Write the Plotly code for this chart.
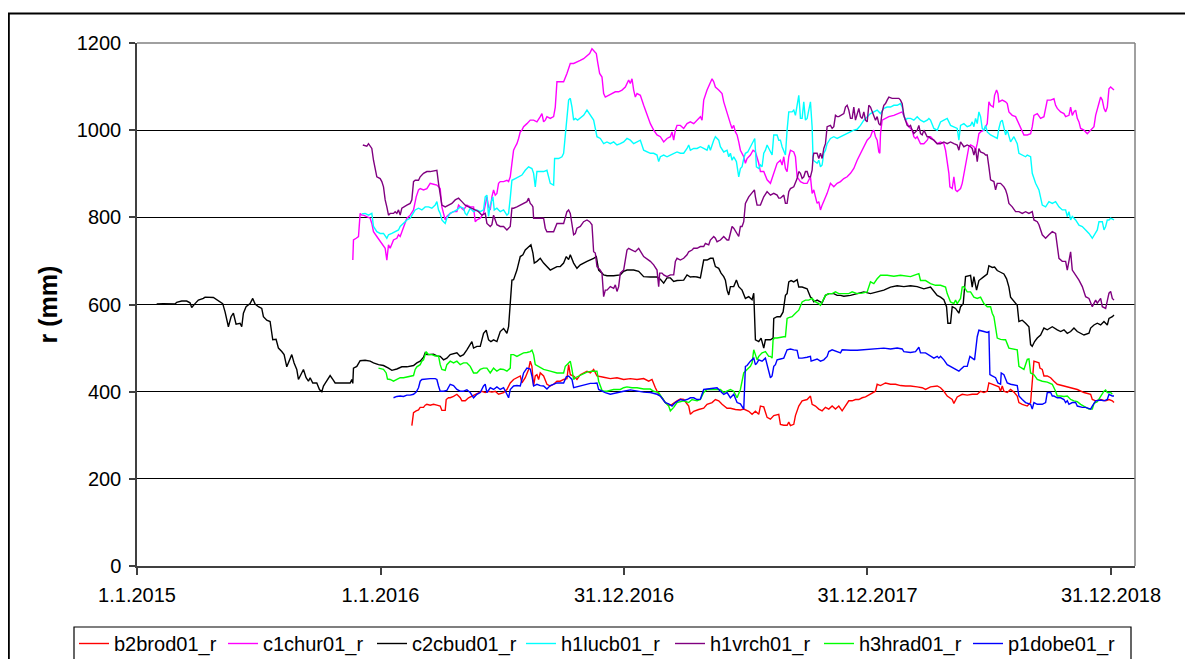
import plotly.graph_objects as go
import pandas as pd

ORIGIN = pd.Timestamp("2015-01-01")

# (day since 1.1.2015, r in mm)
b2brod01_r = [(412,322),(413.5,337),(414.5,352),(418.5,356),(422,358),(424.5,364),(429.5,364),(432,369),(434.5,371),(439.5,369),(444.5,371),(449.5,369),(454.5,367),(457,357),(462,357),(463.5,382),(467,386),
(469.5,386),(474.5,389),(479.5,394),(484.5,386),(487,379),(492,379),(497,386),(502,390),(507,394),(512,398),(517,401),(522,398),(527,401),(532,399),(537,401),(542,394),(549.5,398),(554.5,405),(559.5,420),(564.5,428),(569.5,432),(574.5,436),(577,420),(582,432),(587,451),(589.5,470),(592,458),(594.5,413),(597,436),(599.5,439),(602,428),(604.5,443),(609.5,436),(614.5,417),(619.5,413),(624.5,417),(629.5,424),(634.5,424),(639.5,428),(644.5,430),(647,462),(649.5,439),(654.5,436),(659.5,428),(664.5,439),(669.5,443),(674.5,447),(679.5,443),(684.5,451),(689.5,436),(694.5,434),(699.5,433),(709.5,430),(719.5,432),(729.5,428),(739.5,430),(749.5,428),(759.5,430),(767,424),(772,428),(777,409),(782,394),(787,386),(792,375),(797,369),(802,371),(809.5,379),(814.5,383),(819.5,382),(827,367),(829.5,348),(834.5,355),(842,359),(849.5,362),(854.5,371),(862,375),(867,382),(872,379),(877,371),(884.5,362),(889.5,362),(897,359),(904.5,358),(909.5,360),(917,355),(922,348),(927,355),(932,348),(934.5,367),(939.5,365),(944.5,341),
(949.5,337),(954.5,345),(962,348),(964.5,325),(969.5,323),(974.5,323),(977,330),(979.5,322),(984.5,325),(987,345),(992,367),(997,379),(1004.5,382),(1009.5,390),(1012,371),(1017,367),(1022,360),(1027,356),(1032,364),(1037,360),(1042,367),(1047,360),(1052,367),(1057,356),(1062,367),(1067,379),(1072,379),(1077,382),(1082,382),(1087,386),(1092,388),(1099.5,394),(1107,401),(1109.5,417),(1114.5,414),(1122,420),(1129.5,417),(1137,417),(1144.5,414),(1152,413),(1159.5,413),(1169.5,411),(1177,409),(1182,405),(1189.5,411),(1199.5,413),(1204.5,409),(1209.5,401),(1214.5,390),(1222,382),(1224.5,373),(1229.5,388),(1237,394),(1244.5,392),(1252,394),(1259.5,394),(1264.5,401),(1269.5,398),(1274.5,401),(1277,420),(1282,417),(1287,415),(1292,411),(1294.5,401),(1297,413),(1299.5,401),(1304.5,398),(1309.5,405),(1314.5,399),(1319.5,390),(1322,375),(1327,371),(1334.5,367),(1339.5,375),(1342,420),(1344.5,470),(1352,466),(1353.5,454),(1357,451),(1359.5,436),(1364.5,436),(1369.5,432),(1374.5,424),(1379.5,417),(1389.5,413),(1399.5,409),(1409.5,405),(1419.5,398),(1429.5,394),(1432,382),(1437,379),(1444.5,382),(1452,379),(1457,382),(1462,379),(1464.5,375)]

c1chur01_r = [(323.5,702),(324.5,748),(328.5,752),(332,756),(334.5,809),(337,805),(339.5,805),(344.5,802),(349.5,798),(352,786),(354.5,767),(359.5,756),(364.5,744),(369.5,733),(372,729),(374.5,702),(377,737),(379.5,729),(384.5,748),(389.5,752),(392,760),(394.5,756),(399.5,779),(404.5,798),(409.5,805),(414.5,817),(418.5,847),(422,863),(424.5,866),(429.5,863),(434.5,866),(439.5,878),(444.5,876),(449.5,874),(454.5,866),(457,824),(459.5,809),(462,794),(464.5,802),(469.5,809),(474.5,813),(479.5,813),(482,828),(484.5,824),(489.5,817),(494.5,828),(499.5,824),(504.5,824),(507,790),(509.5,794),(514.5,798),(519.5,809),(522,832),(524.5,847),(527,824),(529.5,817),(532,847),(534.5,863),(537,851),(539.5,855),(542,878),(544.5,882),(549.5,882),(554.5,885),(557,882),(559.5,893),(562,924),(564.5,954),(567,962),(569.5,969),(572,981),(574.5,996),(577,1000),(579.5,1008),(584.5,1015),(589.5,1023),(594.5,1023),(599.5,1019),(604.5,1031),(607,1038),(609.5,1019),(612,1023),(614.5,1031),(619.5,1027),(624.5,1031),(627,1053),(629.5,1111),(634.5,1111),(639.5,1111),(644.5,1130),(647,1141),(649.5,1153),(654.5,1153),(659.5,1156),(664.5,1160),(669.5,1164),(674.5,1172),(678.5,1176),(682,1187),(685.5,1180),(688.5,1176),(690.5,1156),(693.5,1130),(697,1122),(699.5,1084),(702,1076),(707,1080),(712,1084),(717,1088),(722,1088),(727,1092),(732,1099),(737,1115),(739.5,1107),(742,1118),(744.5,1092),(747,1076),(749.5,1084),(754.5,1080),
(759.5,1057),(764.5,1034),(769.5,1015),(774.5,1000),(779.5,989),(784.5,985),(789.5,973),(794.5,981),(799.5,985),(802,996),(804.5,977),(807,1000),(809.5,1011),(814.5,1011),(819.5,1004),(824.5,1015),(829.5,1019),(834.5,1015),(839.5,1023),(844.5,1031),(847,1023),(849.5,1069),(854.5,1092),(859.5,1107),(862,1118),(864.5,1111),(867,1099),(872,1092),(877,1084),(879.5,1065),(884.5,1038),(889.5,1015),(892,1004),(894.5,1011),(897,996),(899.5,989),(902,973),(904.5,954),(909.5,939),(912,924),(914.5,935),(919.5,943),(923.5,954),(927,950),(932,924),(934.5,905),(939.5,905),(944.5,886),(949.5,878),(954.5,901),(957,912),(959.5,924),(964.5,931),(967,920),(969.5,939),(972,912),(974.5,905),(977,939),(979.5,954),(984.5,950),(987,939),(989.5,893),(994.5,882),(999.5,878),(1004.5,878),(1009.5,893),(1012,855),(1014.5,863),(1017,847),(1019.5,832),(1022,836),(1024.5,817),(1027,828),(1029.5,836),(1034.5,855),(1039.5,878),(1044.5,870),(1049.5,878),(1054.5,882),(1059.5,889),(1064.5,893),(1069.5,901),(1074.5,912),(1079.5,931),(1084.5,947),(1089.5,962),(1094.5,977),(1099.5,985),(1102,996),(1104.5,1000),(1107,985),(1109.5,977),(1112,950),(1113.5,947),(1114.5,992),(1117,1023),(1122,1027),(1127,1031),(1134.5,1034),(1142,1038),(1147,1042),(1152,1023),(1157,1008),(1162,1000),(1164.5,985),(1167,981),(1169.5,985),(1174.5,969),(1179.5,969),(1184.5,977),(1187,985),
(1189.5,985),(1194.5,977),(1199.5,969),(1204.5,973),(1209.5,969),(1212,954),(1214.5,931),(1217,901),(1218.5,870),(1222,866),(1224.5,893),(1227,863),(1229.5,859),(1234.5,866),(1237,878),(1239.5,901),(1242,924),(1244.5,947),(1247,962),(1249.5,966),(1254.5,962),(1257,954),(1259.5,969),(1262,992),(1264.5,996),(1269.5,1000),(1274.5,1015),(1277,1065),(1279.5,1057),(1283.5,1053),(1285.5,1080),(1288.5,1092),(1290.5,1084),(1292,1065),(1297,1069),(1302,1065),(1304.5,1061),(1307,1042),(1312,1034),(1317,1031),(1320.5,1019),(1324.5,1004),(1329.5,989),(1334.5,989),(1339.5,992),(1342,1008),(1344.5,1034),(1349.5,1038),(1354.5,1027),(1359.5,1031),(1362,1053),(1364.5,1069),(1369.5,1069),(1374.5,1072),(1377,1057),(1379.5,1050),(1384.5,1042),(1389.5,1038),(1392,1031),(1397,1034),(1399.5,1053),(1402,1034),(1404.5,1042),(1407,1046),(1409.5,1027),(1412,1019),(1414.5,1004),(1419.5,1000),(1424.5,992),(1429.5,1000),(1434.5,1008),(1437,1034),(1442,1061),(1444.5,1076),(1447,1069),(1449.5,1050),(1452,1042),(1454.5,1053),(1457,1095),(1459.5,1099),(1464.5,1092)]

c2cbud01_r = [(29.5,601),(39.5,602),(57,601),(59.5,605),(67,608),(74.5,608),(79.5,604),(82,593),(87,602),(92,610),(99.5,614),(102,617),(114.5,616),(119.5,611),(124.5,606),(128.5,602),(132,583),(137,549),(141,572),(144.5,580),(148.5,555),(154.5,557),(157,549),(159.5,580),(163.5,595),(169.5,602),(173.5,614),(177,601),(182,595),(187,591),(189.5,572),(194.5,564),(199.5,561),(203.5,519),(208.5,520),(212,500),(217,492),(220.5,485),(224.5,457),(229.5,473),(232,485),(235.5,466),(239.5,451),(242,428),(245.5,439),(249.5,451),(253.5,432),(257,424),(259.5,432),(263.5,420),(269.5,420),(273.5,405),(277,400),(279.5,413),(282,419),(287,432),(289.5,437),(293.5,428),(297,420),(309.5,420),(319.5,420),(322,428),(323.5,419),(324.5,454),(329.5,458),(334.5,471),(342,472),(349.5,470),(354.5,466),(362,462),(369.5,460),(377,454),(382,449),(389.5,452),(397,457),(404.5,457),(414.5,460),(419.5,466),(424.5,470),(429.5,479),(432,489),(434.5,485),(444.5,486),(449.5,482),(454.5,481),(459.5,473),(464.5,477),
(469.5,485),(479.5,489),(484.5,481),(489.5,485),(494.5,496),(499.5,511),(502,515),(504.5,500),(509.5,504),(514.5,504),(519.5,534),(523.5,541),(527,519),(530.5,515),(534.5,519),(539.5,515),(544.5,538),(549.5,545),(554.5,534),(557,549),(559.5,595),(561,633),
(562,656),(564.5,657),(569.5,679),(574.5,710),(578.5,714),(582,725),(587,733),(590.5,737),(593.5,718),(595.5,695),(599.5,699),(604.5,706),(609.5,695),(614.5,687),(619.5,679),(624.5,683),(629.5,687),(634.5,687),(639.5,695),(643.5,710),(647,703),(649.5,714),(652,703),(654.5,695),(659.5,683),(664.5,691),(674.5,699),(679.5,702),(684.5,706),(688.5,710),(692,679),(697,672),(699.5,668),(704.5,666),(714.5,666),(724.5,668),(729.5,676),(734.5,679),(744.5,679),(752,676),
(759.5,664),(769.5,663),(779.5,663),(784.5,658),(789.5,649),(794.5,661),(799.5,661),(804.5,653),(809.5,655),(819.5,656),(824.5,668),(829.5,663),(834.5,664),(839.5,663),(844.5,661),(849.5,702),(854.5,702),(859.5,706),(863.5,706),(867,687),(872,683),(875.5,672),(879.5,664),(882,656),(884.5,633),(887,622),(889.5,641),(894.5,641),(898.5,656),(902,641),(907,633),(912,614),(917,618),(922,611),(924.5,626),
(927,519),(932,515),(935.5,523),(939.5,500),(942,519),(949.5,519),
(953.5,523),(954.5,568),(959.5,572),(964.5,572),(968.5,583),(970.5,602),(972,621),(974.5,625),(977,652),(980.5,655),(984.5,652),(989.5,657),(992,640),(997,640),(1004.5,636),(1009.5,617),(1012,614),(1014.5,606),(1019.5,610),(1027,604),(1032,621),(1037,625),(1044.5,625),(1049.5,621),(1054.5,621),(1059.5,619),(1069.5,621),(1079.5,625),(1089.5,629),(1099.5,625),(1109.5,629),(1119.5,633),(1129.5,640),(1139.5,643),(1149.5,641),(1159.5,643),(1169.5,641),(1179.5,636),(1189.5,640),(1194.5,629),(1199.5,621),(1204.5,617),(1209.5,611),(1213.5,595),(1215.5,557),(1219.5,557),(1222,595),(1227,591),(1232,580),(1234.5,595),(1238.5,602),(1242,664),(1249.5,667),(1252,640),(1254.5,664),(1258.5,633),(1262,655),(1269.5,664),(1274.5,670),(1277,689),(1282,685),(1285.5,686),(1289.5,678),(1294.5,674),(1299.5,670),(1303.5,659),(1307,640),(1309.5,617),(1314.5,606),(1319.5,598),(1322,561),(1327,564),(1332,557),(1337,549),(1339.5,508),(1342,504),(1345.5,515),(1349.5,523),(1354.5,530),(1359.5,546),(1364.5,542),(1372,549),(1379.5,542),(1384.5,538),(1389.5,542),(1394.5,534),(1399.5,538),(1404.5,546),(1409.5,538),(1414.5,534),(1419.5,530),(1427,534),(1429.5,546),(1434.5,553),(1439.5,557),(1444.5,553),(1449.5,561),(1454.5,553),(1457,568),(1462,572),(1464.5,576)]

h1lucb01_r = [(337,808),(342,809),(347,805),(352,809),(354.5,779),(359.5,767),(364.5,763),(369.5,763),(374.5,752),(377,760),(382,763),(387,767),(392,771),(394.5,779),(399.5,786),(404.5,794),(409.5,798),(414.5,809),(417,817),(422,821),(427,817),(432,824),(437,824),(442,821),(447,828),(449.5,836),(452,817),(454.5,809),(457,794),(459.5,790),(462,786),(464.5,798),(469.5,809),(474.5,813),(479.5,817),(484.5,824),(489.5,821),(492,809),(494.5,805),(499.5,821),(504.5,813),(509.5,817),(514.5,813),(519.5,817),(522,847),(524.5,851),(527,802),(529.5,828),(533.5,847),(535.5,817),(539.5,821),(544.5,813),(549.5,817),(554.5,805),(557,809),(559.5,844),(562,885),(567,889),(572,893),(577,897),(582,908),(587,916),(592,912),(594.5,901),(597,870),(599.5,905),(604.5,905),(609.5,905),(614.5,908),(617,893),(619.5,878),(624.5,874),(626,935),(632,935),(637,939),(639.5,947),(642,992),(644.5,1038),(647,1069),(649.5,1073),(652,1053),(654.5,1023),(657,1027),(660.5,1023),(664.5,1027),(669.5,1034),(674.5,1046),(679.5,1034),(684.5,1023),(687,1004),(689.5,985),(694.5,981),(699.5,969),(704.5,973),(709.5,969),(714.5,973),(719.5,966),(724.5,969),(729.5,973),(734.5,981),(739.5,977),(744.5,969),(749.5,973),(754.5,977),
(759.5,954),(764.5,950),(769.5,947),(774.5,947),(779.5,943),(782,928),(784.5,939),(789.5,943),(794.5,939),(799.5,943),(804.5,947),(809.5,950),(814.5,947),(819.5,947),(824.5,958),(827,966),(829.5,954),(834.5,958),(839.5,958),(844.5,962),(849.5,958),(854.5,954),(857,966),(859.5,954),(864.5,977),(867,985),(872,977),(874.5,962),(879.5,950),(884.5,954),(887,939),(889.5,947),(892,931),(894.5,939),(898.5,928),(902,893),(904.5,912),(907,916),(909.5,935),(912,947),(915.5,950),(919.5,962),(923.5,973),(926,981),(928.5,916),(932,912),(934.5,920),(937,916),(939.5,947),(942,954),(944.5,966),(947,958),(949.5,954),(952,943),(954.5,989),(959.5,989),(962,977),(964.5,977),(967,962),(969.5,950),(972,943),(974.5,1000),(977,1042),(982,1042),(984.5,1046),(987,1034),(989.5,1053),(992,1080),(993.5,1050),(994.5,1027),(997,1027),(999.5,1065),(1002,1023),(1004.5,1027),(1009.5,1065),(1012,1008),(1013.5,931),(1017,928),(1019.5,924),(1022,931),(1024.5,916),(1027,920),(1029.5,947),(1032,954),(1034.5,969),(1039.5,981),(1044.5,985),(1049.5,981),(1054.5,985),(1059.5,989),(1064.5,992),(1069.5,996),(1074.5,1000),(1079.5,1002),(1084.5,1011),(1089.5,1023),(1094.5,1031),(1099.5,1038),(1104.5,1042),(1109.5,1046),(1114.5,1038),(1119.5,1050),(1124.5,1053),(1129.5,1053),(1134.5,1057),(1139.5,1057),(1144.5,1061),(1147,1053),(1149.5,1034),(1152,1023),(1154.5,1027),(1159.5,1027),(1164.5,1023),(1169.5,1031),(1174.5,1023),(1179.5,1019),(1184.5,1023),(1187,1027),
(1189.5,1023),(1194.5,1004),(1199.5,1000),(1204.5,1019),(1209.5,1023),(1214.5,1027),(1219.5,1011),(1224.5,1008),(1229.5,1004),(1232,977),(1234.5,1011),(1239.5,1015),(1244.5,1008),(1249.5,1011),(1252,1019),(1254.5,1008),(1257,1027),(1259.5,1015),(1262,1042),(1264.5,1031),(1267,1004),(1269.5,1000),(1272,1011),(1274.5,996),(1279.5,989),(1284.5,985),(1289.5,981),(1292,1004),(1294.5,1019),(1297,1023),(1299.5,1004),(1302,989),(1304.5,1000),(1307,985),(1309.5,973),(1314.5,985),(1317,977),(1319.5,969),(1322,947),(1327,943),(1332,939),(1334.5,943),(1339.5,939),(1342,901),(1347,878),(1352,863),(1357,828),(1362,824),(1367,836),(1372,832),(1377,836),(1382,824),(1387,817),(1392,817),(1394.5,802),(1397,813),(1399.5,794),(1402,802),(1407,794),(1412,782),(1417,779),(1422,771),(1427,763),(1432,752),(1437,763),(1439.5,771),(1442,790),(1447,790),(1449.5,771),(1452,779),(1454.5,794),(1457,794),(1459.5,798),(1464.5,794)]

h1vrch01_r = [(338.5,966),(344.5,963),(347,969),(349.5,962),(352,958),(354.5,931),(357,908),(359.5,893),(364.5,889),(367,882),(369.5,870),(372,840),(374.5,824),(377,805),(379.5,809),(384.5,809),(387,813),(389.5,809),(392,817),(394.5,805),(397,821),(399.5,824),(404.5,828),(409.5,832),(412,840),(414.5,882),(417,885),(422,885),(424.5,893),(429.5,901),(434.5,905),(439.5,905),(444.5,906),(449.5,908),(452,878),(454.5,847),(457,828),(462,824),(467,828),(472,832),(477,840),(482,844),(487,836),(492,828),(497,824),(502,821),(507,817),(512,813),(517,805),(522,809),(524.5,786),(529.5,779),(532,783),(534.5,805),(537,794),(539.5,783),(544.5,779),(549.5,779),(554.5,771),(559.5,779),(562,821),(564.5,821),(569.5,824),(574.5,828),(579.5,832),(584.5,836),(587,844),(589.5,832),(592,828),(593.5,824),(594.5,798),(599.5,798),(604.5,798),(609.5,798),(612,775),(614.5,767),(619.5,767),(624.5,767),(629.5,786),(634.5,786),(639.5,786),(644.5,813),(647,817),(649.5,809),(652,786),(654.5,760),(657,763),(659.5,775),(664.5,779),(669.5,790),(674.5,794),(678.5,790),(682,783),(684.5,721),(687,718),(689.5,687),(694.5,679),(697,672),(699.5,618),(702,633),(704.5,633),(709.5,641),(714.5,637),(717,645),(719.5,630),(722,641),(724.5,672),(729.5,679),(734.5,725),(737,729),(742,725),(747,721),(752,729),
(759.5,710),(769.5,699),(774.5,691),(779.5,679),(782,641),(783.5,672),(787,672),(789.5,668),(794.5,664),(799.5,668),(804.5,668),(807,699),(809.5,706),(814.5,702),(819.5,706),(824.5,714),(827,721),(832,725),(834.5,729),(839.5,729),(844.5,733),(849.5,733),(852,740),(857,737),(859.5,748),(864.5,756),(867,752),(869.5,744),(874.5,748),(879.5,756),(884.5,748),(887,748),(889.5,767),(892,779),(894.5,775),(898.5,763),(902,756),(904.5,779),(907,779),(909.5,790),(912,832),(917,847),(922,855),(925.5,863),(927,847),(929.5,828),(934.5,828),(937,836),(939.5,847),(944.5,859),(949.5,851),(954.5,855),(959.5,851),(962,844),(964.5,844),(969.5,851),(972,832),(974.5,832),(977,859),(979.5,866),(984.5,870),(989.5,889),(992,905),(994.5,901),(997,889),(999.5,893),(1002,905),(1004.5,905),(1007,893),(1009.5,893),(1012,908),(1013.5,939),(1014.5,947),(1019.5,947),(1022,935),(1024.5,947),(1027,935),(1029.5,958),(1032,969),(1034.5,1008),(1039.5,1011),(1042,1004),(1044.5,1008),(1047,1034),(1049.5,1031),(1052,1031),(1054.5,1034),(1059.5,1038),(1062,1053),(1064.5,1057),(1067,1046),(1069.5,1027),(1072,1027),(1074.5,1053),(1077,1023),(1079.5,1038),(1082,1050),(1084.5,1031),(1087,1027),(1089.5,1042),(1092,1023),(1094.5,1019),(1097,1057),(1099.5,1053),(1102,1042),(1104.5,1031),(1107,1023),(1109.5,1031),(1112,1015),(1114.5,1011),(1117,1042),(1119.5,1057),(1122,1061),(1124.5,1069),(1127,1076),(1132,1073),(1137,1073),(1142,1073),(1144.5,1069),(1147,1061),(1149.5,1034),(1152,1023),(1154.5,1011),(1157,1008),(1159.5,1011),(1162,1000),(1164.5,992),(1169.5,1000),(1172,1011),(1174.5,992),(1177,989),(1179.5,1000),(1184.5,985),(1187,985),
(1189.5,981),(1194.5,977),(1199.5,969),(1204.5,969),(1209.5,973),(1214.5,969),(1219.5,973),(1224.5,969),(1229.5,966),(1232,954),(1234.5,973),(1239.5,962),(1244.5,966),(1249.5,962),(1252,958),(1254.5,943),(1257,958),(1259.5,928),(1262,958),(1264.5,950),(1269.5,947),(1272,943),(1274.5,943),(1277,916),(1279.5,886),(1284.5,882),(1287,863),(1289.5,878),(1294.5,878),(1299.5,870),(1302,863),(1304.5,851),(1307,832),(1312,824),(1317,813),(1322,813),(1327,809),(1332,813),(1337,809),(1342,813),(1344.5,794),(1349.5,790),(1352,783),(1357,760),(1362,752),(1367,760),(1372,767),(1377,763),(1379.5,729),(1382,706),(1387,699),(1392,699),(1394.5,679),(1397,702),(1399.5,721),(1402,679),(1407,668),(1412,656),(1417,641),(1422,618),(1427,614),(1432,595),(1437,610),(1439.5,603),(1444.5,614),(1447,595),(1452,591),(1454.5,610),(1457,626),(1459.5,630),(1462,614),(1464.5,610)]

h3hrad01_r = [(362,454),(369.5,451),(373.5,443),(375.5,429),(379.5,428),(384.5,424),(389.5,428),(394.5,432),(399.5,432),(404.5,434),(409.5,436),(414.5,437),(417,451),(419.5,457),(424.5,462),(427,470),(429.5,473),(432,485),(433.5,492),(437,485),(442,485),(447,482),(452,482),(454.5,462),(457,451),(462,449),(464.5,462),
(469.5,470),(474.5,466),(479.5,470),(484.5,462),(489.5,466),(494.5,466),(499.5,458),(504.5,443),(509.5,443),(514.5,451),(519.5,454),(524.5,454),(529.5,443),(534.5,454),(539.5,447),(544.5,452),(549.5,451),(554.5,447),(559.5,454),(560.5,485),(564.5,485),(569.5,481),(574.5,485),(579.5,489),(584.5,490),(589.5,492),(592,495),(594.5,485),(597,462),(602,458),(609.5,451),(619.5,447),(629.5,443),(639.5,443),(642,458),(644.5,462),(649.5,470),(652,451),(654.5,428),(657,432),(662,436),(667,439),(674.5,445),(682,447),(689.5,447),(692,424),(697,403),(699.5,401),(704.5,401),(714.5,405),(724.5,405),(729.5,409),(734.5,411),(742,409),(749.5,409),(759.5,406),(769.5,406),(774.5,401),(782,398),(787,386),(792,375),(797,367),(799.5,356),(804.5,364),(809.5,375),(819.5,379),(827,375),(832,382),(839.5,379),(844.5,382),(849.5,398),(854.5,405),(864.5,405),(874.5,405),(879.5,398),(884.5,401),(889.5,405),(894.5,401),(899.5,386),(904.5,405),(909.5,443),(914.5,451),(919.5,458),(922,466),(924.5,496),(927,485),(929.5,473),(932,481),(937,489),(942,492),(947,481),
(949.5,481),(952,477),(953.5,519),(955.5,523),(959.5,523),(964.5,525),(969.5,526),(972,526),(974.5,568),(977,570),(982,572),(987,580),(992,587),(997,606),(1002,610),(1007,610),(1012,614),(1017,606),(1022,602),(1024.5,598),(1027,606),(1032,621),(1037,625),(1042,625),(1047,629),(1052,625),(1059.5,625),(1067,625),(1072,629),(1079.5,625),(1087,626),(1094.5,629),(1099.5,652),(1104.5,648),(1109.5,659),(1114.5,667),(1124.5,667),(1134.5,665),(1144.5,667),(1152,665),(1159.5,664),(1164.5,667),(1169.5,670),(1172,671),(1174.5,655),(1182,655),(1189.5,648),(1197,644),(1204.5,644),(1212,640),(1214.5,625),(1219.5,606),(1224.5,602),(1227,610),(1229.5,602),(1234.5,614),(1237,640),(1239.5,641),(1244.5,629),(1249.5,629),(1254.5,617),(1259.5,614),(1264.5,617),(1269.5,602),(1274.5,595),(1279.5,595),(1282,580),(1284.5,572),(1289.5,523),(1294.5,520),(1299.5,519),(1302,519),(1307,500),(1314.5,498),(1319.5,496),(1322,458),(1329.5,451),(1334.5,474),(1337,475),(1339.5,443),(1344.5,439),(1349.5,428),(1357,424),(1364.5,422),(1372,417),(1377,401),(1379.5,390),(1384.5,390),(1389.5,389),(1394.5,390),(1399.5,382),(1404.5,379),(1409.5,377),(1414.5,371),(1419.5,367),(1427,360),(1432,360),(1434.5,373),(1439.5,377),(1444.5,390),(1447,394),(1449.5,401),(1452,404),(1454.5,398),(1459.5,398),(1462,394)]

p1dobe01_r = [(384.5,386),(389.5,389),(394.5,390),(399.5,389),(404.5,392),(409.5,392),(414.5,394),(418.5,399),(422,409),(424.5,424),(427,428),(432,429),(439.5,430),(447,430),(449.5,428),(452,413),(454.5,401),(459.5,401),(464.5,403),
(469.5,417),(474.5,414),(479.5,405),(484.5,401),(489.5,401),(494.5,404),(499.5,398),(504.5,386),(509.5,394),(514.5,398),(519.5,413),(522,417),(524.5,398),(529.5,409),(534.5,405),(539.5,411),(544.5,405),(549.5,409),(554.5,394),(557,386),(559.5,405),(564.5,413),(569.5,414),(574.5,413),(577,428),(579.5,443),(584.5,454),(589.5,452),(592,436),(594.5,413),(599.5,417),(604.5,414),(609.5,413),(614.5,406),(619.5,414),(624.5,417),(629.5,420),(639.5,420),(643.5,434),(647,436),(652,428),(654.5,409),(659.5,411),(667,414),(674.5,417),(679.5,419),(684.5,419),(689.5,420),(692,405),(697,401),(702,398),(709.5,394),(719.5,398),(729.5,401),(739.5,404),(749.5,401),(759.5,399),(769.5,398),(779.5,394),(784.5,390),(789.5,379),(792,375),(797,372),(802,367),(807,375),(814.5,382),(819.5,380),(824.5,382),(829.5,386),(834.5,386),(839.5,382),(844.5,383),(849.5,405),(854.5,406),(864.5,409),(869.5,409),(874.5,401),(879.5,394),(884.5,398),(889.5,386),(894.5,394),(899.5,375),(904.5,372),(909.5,360),(912,458),(914.5,460),(919.5,470),(924.5,477),(927,462),(929.5,466),(932,473),(937,470),(942,477),(947,443),
(949.5,432),(952,436),(954.5,458),(957,462),(959.5,473),(964.5,475),(969.5,477),(974.5,496),(979.5,498),(984.5,496),(989.5,495),(992,477),(997,477),(1004.5,479),(1009.5,481),(1010.5,470),(1014.5,473),(1019.5,475),(1024.5,470),(1029.5,473),(1034.5,481),(1037,492),(1042,496),(1049.5,492),(1054.5,489),(1057,496),(1062,495),(1069.5,495),(1079.5,495),(1089.5,496),(1099.5,498),(1109.5,498),(1119.5,500),(1129.5,498),(1139.5,500),(1147,498),(1149.5,492),(1159.5,490),(1167,492),(1172,502),(1174.5,489),(1182,489),(1189.5,481),(1194.5,477),(1199.5,481),(1202,477),(1204.5,481),(1209.5,473),(1214.5,462),(1219.5,458),(1224.5,454),(1232,447),(1234.5,451),(1239.5,458),(1244.5,458),(1248.5,481),(1252,477),(1255.5,473),(1259.5,526),(1262,541),(1269.5,538),(1274.5,536),(1277,538),(1278.5,439),(1282,436),(1287,432),(1290.5,420),(1294.5,417),(1295.5,443),(1299.5,439),(1304.5,420),(1309.5,417),(1319.5,414),(1322,390),(1327,382),(1332,375),(1339.5,371),(1342,360),(1344.5,375),(1349.5,371),(1357,371),(1362,375),(1364.5,398),(1369.5,398),(1372,390),(1374.5,390),(1379.5,386),(1384.5,386),(1389.5,382),(1392,375),(1394.5,379),(1397,371),(1402,375),(1407,375),(1409.5,367),(1417,364),(1422,364),(1429.5,360),(1432,367),(1437,379),(1444.5,381),(1449.5,379),(1454.5,382),(1457,394),(1462,390),(1464.5,390)]

series_names = ["b2brod01_r", "c1chur01_r", "c2cbud01_r", "h1lucb01_r", "h1vrch01_r", "h3hrad01_r", "p1dobe01_r"]
series_data = [b2brod01_r, c1chur01_r, c2cbud01_r, h1lucb01_r, h1vrch01_r, h3hrad01_r, p1dobe01_r]
series_colors = ["#FF0000", "#FF00FF", "#000000", "#00FFFF", "#800080", "#00FF00", "#0000FF"]

x_tick_dates = ["2015-01-01", "2016-01-01", "2016-12-31", "2017-12-31", "2018-12-31"]
x_tick_labels = ["1.1.2015", "1.1.2016", "31.12.2016", "31.12.2017", "31.12.2018"]
y_ticks = [0, 200, 400, 600, 800, 1000, 1200]

FONT = "Liberation Sans, Arial, sans-serif"

fig = go.Figure()
for name, pts, color in zip(series_names, series_data, series_colors):
    days = [p[0] for p in pts]
    vals = [p[1] for p in pts]
    x = ORIGIN + pd.to_timedelta(days, unit="D")
    fig.add_trace(go.Scatter(x=x, y=vals, mode="lines", name=name,
                             line=dict(color=color, width=1.4)))

# page body has an 8px margin: figure is sized so that it fills the window exactly
OFF = 8
W, H = 1193 - OFF, 659 - OFF
L, R, T, B = 137 - OFF, 1135 - OFF, 43 - OFF, 566 - OFF
pw, ph = R - L, B - T

def px(page_x):
    return (page_x - OFF - L) / pw

def py(page_y):
    return (B - (page_y - OFF)) / ph

fig.update_layout(
    width=W, height=H, autosize=False,
    margin=dict(l=L, r=W - R, t=T, b=H - B, pad=0, autoexpand=False),
    paper_bgcolor="white", plot_bgcolor="white",
    font=dict(family=FONT, size=20, color="black"),
    showlegend=True,
    legend=dict(orientation="h", x=px(74), y=py(624), xanchor="left", yanchor="top",
                bgcolor="rgba(0,0,0,0)", borderwidth=0,
                font=dict(family=FONT, size=20, color="black"),
                entrywidth=104, entrywidthmode="pixels", itemwidth=30,
                traceorder="normal"),
    xaxis=dict(type="date", range=[ORIGIN, pd.Timestamp("2019-02-05")],
               tickvals=x_tick_dates, ticktext=x_tick_labels,
               showgrid=False, zeroline=False,
               showline=True, linecolor="#404040", linewidth=1.5,
               ticks="outside", ticklen=7, tickwidth=1.5, tickcolor="#404040",
               ticklabelstandoff=3,
               tickfont=dict(family=FONT, size=20, color="black")),
    yaxis=dict(range=[0, 1200], tickvals=y_ticks,
               showgrid=True, gridcolor="black", gridwidth=1, zeroline=False,
               showline=True, linecolor="#404040", linewidth=1.5,
               ticks="outside", ticklen=6, tickwidth=1.5, tickcolor="#404040",
               ticklabelstandoff=4,
               tickfont=dict(family=FONT, size=20, color="black")),
    annotations=[dict(text="<b>r (mm)</b>", textangle=-90, xref="paper", yref="paper",
                      x=px(47), y=0.5, xanchor="center", yanchor="middle", showarrow=False,
                      font=dict(family=FONT, size=25, color="black"))],
    shapes=[
        dict(type="line", xref="paper", yref="paper", x0=0, x1=1, y0=1, y1=1,
             line=dict(color="#808080", width=1.5), layer="above"),
        dict(type="line", xref="paper", yref="paper", x0=1, x1=1, y0=0, y1=1,
             line=dict(color="#808080", width=1.5), layer="above"),
        dict(type="rect", xref="paper", yref="paper", x0=px(8.8), x1=px(1260), y0=py(720), y1=py(13.5),
             line=dict(color="black", width=2), fillcolor="rgba(0,0,0,0)", layer="above"),
        dict(type="rect", xref="paper", yref="paper", x0=px(74), x1=px(1131), y0=py(720), y1=py(627),
             line=dict(color="black", width=1.2), fillcolor="rgba(0,0,0,0)", layer="above"),
    ],
)

fig.write_html("out.html")
